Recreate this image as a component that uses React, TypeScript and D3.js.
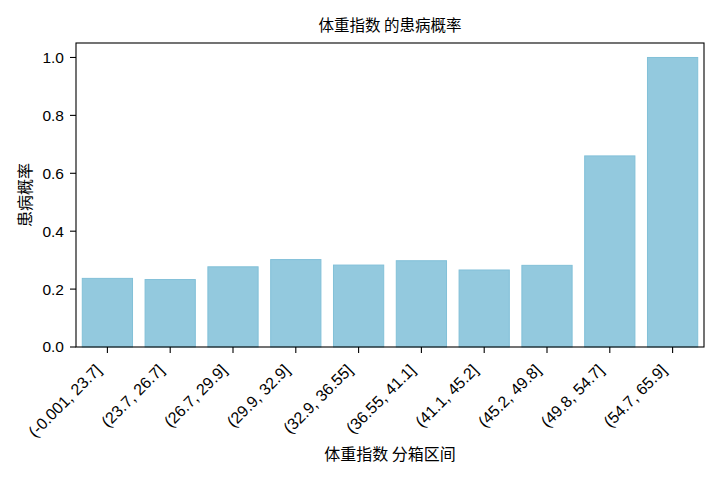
import React from "react";
import * as d3 from "d3";

const categories = [
  "(-0.001, 23.7]",
  "(23.7, 26.7]",
  "(26.7, 29.9]",
  "(29.9, 32.9]",
  "(32.9, 36.55]",
  "(36.55, 41.1]",
  "(41.1, 45.2]",
  "(45.2, 49.8]",
  "(49.8, 54.7]",
  "(54.7, 65.9]",
];
const rates = [0.237, 0.233, 0.277, 0.302, 0.283, 0.298, 0.266, 0.282, 0.66, 1.0];
const yTicks = [0, 0.2, 0.4, 0.6, 0.8, 1.0];

const title = "体重指数 的患病概率";
const xTitle = "体重指数 分箱区间";
const yTitle = "患病概率";

const W = 720;
const H = 480;
const M = { left: 76, right: 16, top: 43, bottom: 133 };
const FONT = "'Liberation Sans', Arial, 'Noto Sans CJK SC', sans-serif";
const CJK = "'Noto Sans CJK SC', 'Liberation Sans', sans-serif";

export default function App() {
  const iw = W - M.left - M.right;
  const ih = H - M.top - M.bottom;
  const x = d3
    .scaleLinear()
    .domain([-0.5, categories.length - 0.5])
    .range([M.left, M.left + iw]);
  const y = d3.scaleLinear().domain([0, 1.05]).range([M.top + ih, M.top]);
  const bw = x(0.4) - x(0);
  const y0 = y(0);

  return (
    <svg width={W} height={H} style={{ position: "absolute", left: 0, top: 0 }}>
      <rect x={0} y={0} width={W} height={H} fill="#fff" />
      {rates.map((v, i) => (
        <rect
          key={i}
          x={x(i) - bw}
          y={y(v)}
          width={bw * 2}
          height={y0 - y(v)}
          fill="#93c9de"
          stroke="#82c0d8"
          strokeWidth={1}
        />
      ))}
      <rect
        x={M.left}
        y={M.top}
        width={iw}
        height={ih}
        fill="none"
        stroke="#000"
        strokeWidth={1.1}
      />
      {yTicks.map((t) => (
        <g key={t}>
          <line x1={M.left - 6} x2={M.left} y1={y(t)} y2={y(t)} stroke="#000" strokeWidth={1.1} />
          <text
            x={M.left - 12}
            y={y(t)}
            dy="0.35em"
            textAnchor="end"
            fontFamily={FONT}
            fontSize={15.5}
            fill="#000"
          >
            {t.toFixed(1)}
          </text>
        </g>
      ))}
      {categories.map((c, i) => (
        <g key={c}>
          <line x1={x(i)} x2={x(i)} y1={y0} y2={y0 + 6} stroke="#000" strokeWidth={1.1} />
          <text
            transform={`translate(${x(i) - 5},${y0 + 24}) rotate(-45)`}
            textAnchor="end"
            fontFamily={FONT}
            fontSize={16}
            fill="#000"
          >
            {c}
          </text>
        </g>
      ))}
      <text
        x={M.left + iw / 2}
        y={31}
        textAnchor="middle"
        fontFamily={CJK}
        fontSize={15.5}
        fill="#000"
      >
        {title}
      </text>
      <text
        x={M.left + iw / 2}
        y={460}
        textAnchor="middle"
        fontFamily={CJK}
        fontSize={16}
        fill="#000"
      >
        {xTitle}
      </text>
      <text
        transform={`translate(31,${M.top + ih / 2}) rotate(-90)`}
        textAnchor="middle"
        fontFamily={CJK}
        fontSize={16}
        fill="#000"
      >
        {yTitle}
      </text>
    </svg>
  );
}
